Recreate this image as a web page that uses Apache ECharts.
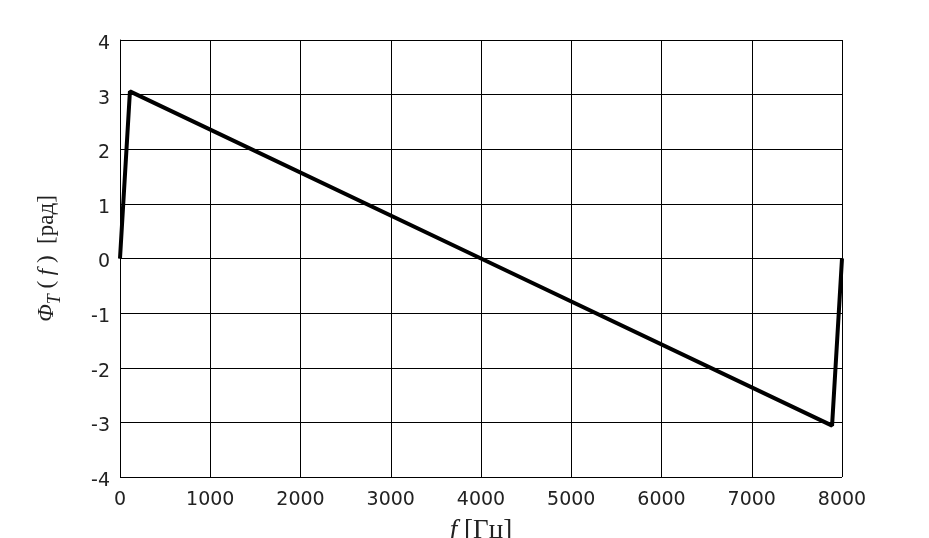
<!DOCTYPE html>
<html>
<head>
<meta charset="utf-8">
<script src="https://cdn.jsdelivr.net/npm/echarts@6/dist/echarts.min.js"></script>
<style>
  html, body { margin: 0; padding: 0; background: #fff; }
  #chart { width: 929px; height: 538px; }
</style>
</head>
<body>
<div id="chart"></div>
<script>
// частота, Гц
const freqHz = [0, 110, 4000, 7890, 8000];
// фаза, рад
const phaseRad = [0, 3.06, 0, -3.06, 0];

const xTicks = { min: 0, max: 8000, interval: 1000 };
const yTicks = { min: -4, max: 4, interval: 1 };

const chart = echarts.init(document.getElementById('chart'));

const tickFont = {
    fontFamily: 'DejaVu Sans',
    fontSize: 19,
    color: '#222',
    formatter: (v) => String(v),
};

const option = {
    backgroundColor: '#fff',
    animation: false,
    grid: { left: 120, right: 87, top: 40, bottom: 61, containLabel: false, outerBoundsMode: 'none' },
    xAxis: {
        type: 'value',
        min: xTicks.min,
        max: xTicks.max,
        interval: xTicks.interval,
        axisLine: { show: true, lineStyle: { color: '#000', width: 1 } },
        axisTick: { show: false },
        axisLabel: { ...tickFont, margin: 14 },
        splitLine: { show: true, lineStyle: { color: '#000', width: 1 } },
        name: '{it|f}{n| [Гц]}',
        nameLocation: 'middle',
        nameGap: 40,
        nameTextStyle: {
            rich: {
                it: { fontFamily: 'Liberation Serif', fontStyle: 'italic', fontSize: 27, color: '#222' },
                n: { fontFamily: 'Liberation Serif', fontSize: 27, color: '#222' },
            },
        },
    },
    yAxis: {
        type: 'value',
        min: yTicks.min,
        max: yTicks.max,
        interval: yTicks.interval,
        axisLine: { show: true, lineStyle: { color: '#000', width: 1 } },
        axisTick: { show: false },
        axisLabel: {
            ...tickFont,
            margin: 10,
            formatter: (v) => '{a|' + v + '}',
            rich: {
                a: { fontFamily: 'DejaVu Sans', fontSize: 19, color: '#222', padding: [8, 0, 0, 0] },
            },
        },
        splitLine: { show: true, lineStyle: { color: '#000', width: 1 } },
        name: '{phi|Φ}{sub|T}{n| ( }{it|f}{n| )  [рад]}',
        nameLocation: 'middle',
        nameRotate: 90,
        nameGap: 56,
        nameTextStyle: {
            rich: {
                phi: { fontFamily: 'Liberation Serif', fontStyle: 'italic', fontSize: 23, color: '#222' },
                sub: { fontFamily: 'Liberation Serif', fontStyle: 'italic', fontSize: 18, color: '#222', padding: [16, 0, 0, 0] },
                it: { fontFamily: 'Liberation Serif', fontStyle: 'italic', fontSize: 23, color: '#222' },
                n: { fontFamily: 'Liberation Serif', fontSize: 23, color: '#222' },
            },
        },
    },
    series: [
        {
            type: 'line',
            data: freqHz.map((f, i) => [f, phaseRad[i]]),
            showSymbol: false,
            lineStyle: { color: '#000', width: 4 },
        },
    ],
};

chart.setOption(option);
</script>
</body>
</html>
